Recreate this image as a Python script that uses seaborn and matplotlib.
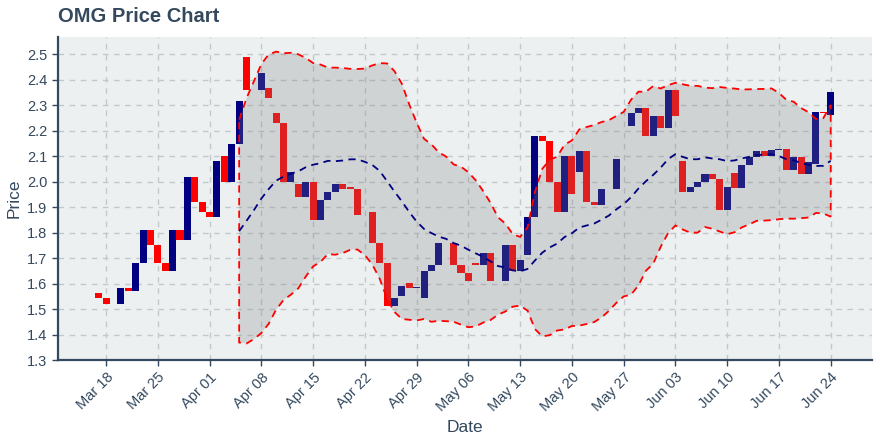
import pandas as pd
import numpy as np
import matplotlib
matplotlib.use('Agg')
import matplotlib.pyplot as plt
import matplotlib.dates as mdates
import seaborn as sns

# daily candles, Mar 17 - Jun 24
dates = pd.date_range('2019-03-17', '2019-06-24', freq='D')

opens = [
    # Mar 17-31
    1.563, 1.543, 1.520, 1.520, 1.582, 1.571, 1.680, 1.810, 1.751, 1.680, 1.649, 1.810, 1.771, 2.018, 1.920,
    # Apr
    1.880, 1.861, 2.100, 1.998, 2.147, 2.488, 2.359, 2.359, 2.367, 2.269,
    2.229, 1.998, 1.990, 1.939, 1.998, 1.849, 1.927, 1.959, 1.990, 1.978,
    1.971, 1.875, 1.880, 1.759, 1.680, 1.512, 1.551, 1.602, 1.582, 1.543,
    # May
    1.649, 1.673, 1.759, 1.759, 1.673, 1.641, 1.680, 1.673, 1.720, 1.610,
    1.610, 1.751, 1.649, 1.712, 1.861, 2.178, 2.159, 1.998, 1.880, 2.100,
    2.037, 2.120, 1.920, 1.908, 1.971, 1.971, 2.088, 2.218, 2.269, 2.288, 2.178,
    # Jun 1-24
    2.257, 2.210, 2.359, 2.080, 1.959, 1.978, 1.998, 2.029, 2.010, 1.888,
    2.033, 1.975, 2.065, 2.096, 2.120, 2.100, 2.124, 2.127, 2.045, 2.096,
    2.029, 2.069, 2.273, 2.261,
]

closes = [
    # Mar 17-31
    1.543, 1.520, 1.520, 1.582, 1.571, 1.680, 1.810, 1.751, 1.680, 1.649, 1.810, 1.771, 2.018, 1.920, 1.880,
    # Apr
    1.861, 2.080, 1.998, 2.147, 2.316, 2.359, 2.359, 2.425, 2.327, 2.229,
    1.998, 2.037, 1.939, 1.998, 1.849, 1.927, 1.959, 1.990, 1.971, 1.971,
    1.869, 1.875, 1.759, 1.680, 1.512, 1.543, 1.590, 1.582, 1.585, 1.649,
    # May
    1.673, 1.759, 1.759, 1.673, 1.641, 1.610, 1.673, 1.720, 1.610, 1.610,
    1.751, 1.649, 1.692, 1.861, 2.178, 2.159, 1.998, 1.880, 2.100, 1.951,
    2.120, 1.920, 1.908, 1.971, 1.971, 2.088, 2.088, 2.269, 2.288, 2.178, 2.257,
    # Jun 1-24
    2.210, 2.359, 2.257, 1.959, 1.978, 1.998, 2.029, 2.010, 1.888, 1.978,
    1.975, 2.065, 2.096, 2.120, 2.100, 2.124, 2.127, 2.045, 2.096, 2.029,
    2.076, 2.273, 2.269, 2.351,
]

y_ticks = [1.3, 1.4, 1.5, 1.6, 1.7, 1.8, 1.9, 2.0, 2.1, 2.2, 2.3, 2.4, 2.5]

df = pd.DataFrame({'Date': dates, 'Open': opens, 'Close': closes})

# bollinger bands (20 day, population std)
df['Mid'] = df['Close'].rolling(20).mean()
std = df['Close'].rolling(20).std(ddof=0)
df['Upper'] = df['Mid'] + 2 * std
df['Lower'] = df['Mid'] - 2 * std

txt = '#34495e'
sns.set_style('whitegrid', {
    'axes.facecolor': '#ecf0f1',
    'grid.color': '#c3c8cc',
    'grid.linestyle': (0, (4, 4)),
    'axes.edgecolor': txt,
})
plt.rcParams['font.family'] = ['Liberation Sans', 'DejaVu Sans']

fig = plt.figure(figsize=(8.8, 4.4), dpi=100)
ax = fig.add_axes([58 / 880, 1 - 360 / 440, (872 - 58) / 880, (360 - 37) / 440])

colors = np.where(df['Close'] >= df['Open'], '#000080', '#ff0000')
ax.bar(df['Date'], df['Close'] - df['Open'], bottom=df['Open'], width=0.95,
       color=colors, linewidth=0, zorder=2)

band = df.dropna()
xs = np.concatenate([mdates.date2num(band['Date']), mdates.date2num(band['Date'])[::-1]])
ys = np.concatenate([band['Upper'].values, band['Lower'].values[::-1]])
ax.fill(xs, ys, facecolor=(0.5, 0.5, 0.5, 0.25), edgecolor='#ff0000',
        linestyle=(0, (4, 3)), linewidth=1.3, zorder=3)
sns.lineplot(x='Date', y='Mid', data=band, ax=ax, color='#000080',
             linestyle=(0, (4, 3)), linewidth=1.3, zorder=4)

ax.set_ylim(1.3, 2.567)
ax.set_xlim(pd.Timestamp('2019-03-11 12:00'), pd.Timestamp('2019-06-29 14:00'))
ax.set_yticks(y_ticks)
ax.yaxis.set_major_formatter(matplotlib.ticker.FormatStrFormatter('%.1f'))
ax.xaxis.set_major_locator(mdates.WeekdayLocator(byweekday=mdates.MO))
ax.xaxis.set_major_formatter(mdates.DateFormatter('%b %d'))

ax.grid(True, linewidth=1.0)
ax.set_axisbelow(True)
for s in ['top', 'right']:
    ax.spines[s].set_visible(False)
ax.spines['left'].set_linewidth(1.6)
ax.spines['bottom'].set_linewidth(1.6)

ax.tick_params(axis='both', colors=txt, labelsize=10.5, length=4, width=1,
               direction='out', bottom=True, left=True)
plt.setp(ax.get_xticklabels(), rotation=45, ha='right', rotation_mode='anchor')

ax.set_xlabel('Date', fontsize=12.5, color=txt, labelpad=4)
ax.set_ylabel('Price', fontsize=12.5, color=txt, labelpad=4)

fig.text(58 / 880, 1 - 16 / 440, 'OMG Price Chart', fontsize=14.5,
         fontweight='bold', color=txt, va='center', ha='left')

fig.savefig('out.png', dpi=100)
